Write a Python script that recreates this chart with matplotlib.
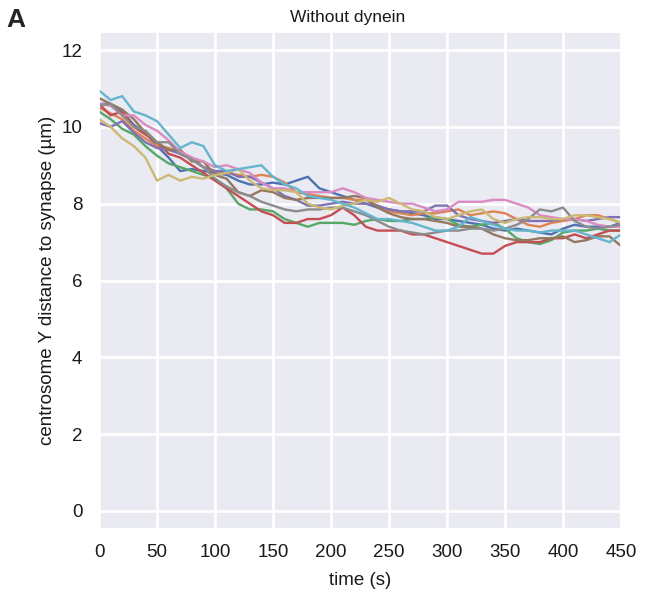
import numpy as np
import matplotlib
matplotlib.use("Agg")
import matplotlib.pyplot as plt
import seaborn as sns

time_s = list(range(0, 451, 10))

blue = [10.6, 10.6, 10.4, 10.05, 9.85, 9.5, 9.2, 8.85, 8.9, 8.85, 8.8, 8.75, 8.6, 8.5, 8.5, 8.55,
        8.5, 8.6, 8.7, 8.4, 8.3, 8.2, 8.1, 8.0, 7.9, 7.85, 7.8, 7.75, 7.7, 7.6, 7.6, 7.55, 7.5,
        7.45, 7.35, 7.3, 7.35, 7.3, 7.25, 7.2, 7.35, 7.45, 7.4, 7.4, 7.4, 7.5]
orange = [10.5, 10.35, 10.2, 9.9, 9.7, 9.5, 9.45, 9.35, 9.2, 8.95, 8.85, 8.8, 8.75, 8.7, 8.75, 8.7,
          8.55, 8.3, 8.25, 8.2, 8.15, 8.15, 8.1, 8.1, 7.95, 7.8, 7.75, 7.7, 7.75, 7.75, 7.8, 7.85,
          7.7, 7.75, 7.8, 7.75, 7.6, 7.45, 7.4, 7.5, 7.55, 7.6, 7.7, 7.7, 7.6, 7.5]
green = [10.4, 10.2, 9.95, 9.8, 9.5, 9.25, 9.05, 8.95, 8.85, 8.75, 8.65, 8.4, 8.0, 7.85, 7.85, 7.8,
         7.6, 7.5, 7.4, 7.5, 7.5, 7.5, 7.45, 7.55, 7.6, 7.55, 7.55, 7.6, 7.6, 7.65, 7.6, 7.45,
         7.4, 7.45, 7.5, 7.35, 7.1, 7.0, 6.95, 7.05, 7.25, 7.3, 7.3, 7.35, 7.3, 7.3]
red = [10.6, 10.3, 10.4, 10.0, 9.8, 9.6, 9.3, 9.2, 9.0, 8.8, 8.6, 8.4, 8.2, 8.0, 7.8, 7.7,
       7.5, 7.5, 7.6, 7.6, 7.7, 7.9, 7.7, 7.4, 7.3, 7.3, 7.3, 7.2, 7.2, 7.1, 7.0, 6.9,
       6.8, 6.7, 6.7, 6.9, 7.0, 7.0, 7.0, 7.1, 7.1, 7.2, 7.1, 7.2, 7.3, 7.3]
purple = [10.1, 10.0, 10.15, 9.85, 9.6, 9.45, 9.4, 9.3, 9.15, 8.95, 8.85, 8.85, 8.7, 8.7, 8.55, 8.4,
          8.2, 8.1, 7.95, 7.95, 8.0, 8.05, 8.0, 8.0, 7.95, 7.85, 7.8, 7.8, 7.8, 7.95, 7.95, 7.7,
          7.6, 7.55, 7.5, 7.55, 7.6, 7.55, 7.55, 7.55, 7.6, 7.6, 7.55, 7.6, 7.65, 7.65]
brown = [10.75, 10.6, 10.45, 10.2, 9.85, 9.6, 9.4, 9.4, 9.1, 9.1, 8.75, 8.65, 8.3, 8.2, 8.35, 8.3,
         8.15, 8.1, 8.15, 8.15, 8.15, 8.15, 8.2, 8.15, 7.9, 7.75, 7.65, 7.6, 7.6, 7.55, 7.5, 7.4,
         7.4, 7.35, 7.2, 7.1, 7.05, 7.05, 7.1, 7.1, 7.15, 7.0, 7.05, 7.15, 7.15, 6.9]
pink = [10.6, 10.55, 10.3, 10.3, 10.05, 9.9, 9.65, 9.35, 9.2, 9.1, 8.95, 9.0, 8.9, 8.8, 8.55, 8.4,
        8.4, 8.3, 8.3, 8.3, 8.3, 8.4, 8.3, 8.15, 8.1, 8.05, 8.0, 8.0, 7.9, 7.8, 7.85, 8.05,
        8.05, 8.05, 8.1, 8.1, 8.0, 7.9, 7.7, 7.65, 7.6, 7.6, 7.55, 7.45, 7.4, 7.4]
gray = [10.55, 10.6, 10.3, 10.0, 9.9, 9.6, 9.6, 9.3, 9.15, 8.95, 8.65, 8.45, 8.3, 8.2, 8.05, 7.95,
        7.85, 7.8, 7.85, 7.85, 7.9, 7.9, 7.8, 7.7, 7.55, 7.4, 7.3, 7.25, 7.2, 7.25, 7.3, 7.3,
        7.35, 7.35, 7.3, 7.35, 7.45, 7.6, 7.85, 7.8, 7.9, 7.55, 7.4, 7.35, 7.4, 7.45]
olive = [10.2, 10.0, 9.7, 9.5, 9.2, 8.6, 8.75, 8.6, 8.7, 8.65, 8.75, 8.8, 8.9, 8.6, 8.4, 8.35,
         8.35, 8.3, 8.0, 7.9, 7.85, 7.95, 8.0, 8.1, 8.05, 8.15, 8.0, 7.85, 7.8, 7.65, 7.6, 7.7,
         7.8, 7.85, 7.6, 7.5, 7.6, 7.65, 7.65, 7.6, 7.6, 7.7, 7.7, 7.65, 7.6, 7.5]
cyan = [10.95, 10.7, 10.8, 10.4, 10.3, 10.15, 9.8, 9.45, 9.6, 9.5, 9.0, 8.85, 8.9, 8.95, 9.0, 8.7,
        8.5, 8.4, 8.2, 8.15, 8.1, 8.0, 7.9, 7.75, 7.6, 7.6, 7.55, 7.5, 7.4, 7.3, 7.3, 7.4,
        7.65, 7.55, 7.45, 7.35, 7.3, 7.3, 7.25, 7.3, 7.3, 7.3, 7.2, 7.1, 7.0, 7.2]

series = [blue, orange, green, red, purple, brown, pink, gray, olive, cyan]
palette = sns.color_palette("deep", 10)

title = "Without dynein"
xlabel = "time (s)"
ylabel = "centrosome Y distance to synapse (µm)"
panel = "A"

sns.set_theme(style="darkgrid")
plt.rcParams["font.family"] = ["Liberation Sans", "DejaVu Sans"]

fig = plt.figure(figsize=(6.45, 5.97), dpi=100)
ax = fig.add_axes([0.1535, 0.1139, 0.8093, 0.8325])
ax.grid(True, color="white", linewidth=1.9)
for s, c in zip(series, palette):
    ax.plot(time_s, s, color=c, lw=1.7)

ax.set_xlim(0, 450)
ax.set_ylim(-0.47, 12.47)
ax.set_xticks(range(0, 451, 50))
ax.set_yticks(range(0, 13, 2))
ax.tick_params(axis="both", labelsize=13.5, size=0, colors="#1a1a1a")
ax.tick_params(axis="x", pad=11)
ax.tick_params(axis="y", pad=12)
ax.set_xlabel(xlabel, fontsize=13.5, labelpad=8, color="#1a1a1a")
ax.set_ylabel(ylabel, fontsize=13.5, labelpad=4, color="#1a1a1a")
ax.set_title(title, fontsize=12.5, x=0.477, pad=7, color="#1a1a1a")
fig.text(0.025, 0.966, panel, fontsize=19, fontweight="bold", va="center", ha="center")

fig.savefig("out.png", dpi=100, facecolor="white")
